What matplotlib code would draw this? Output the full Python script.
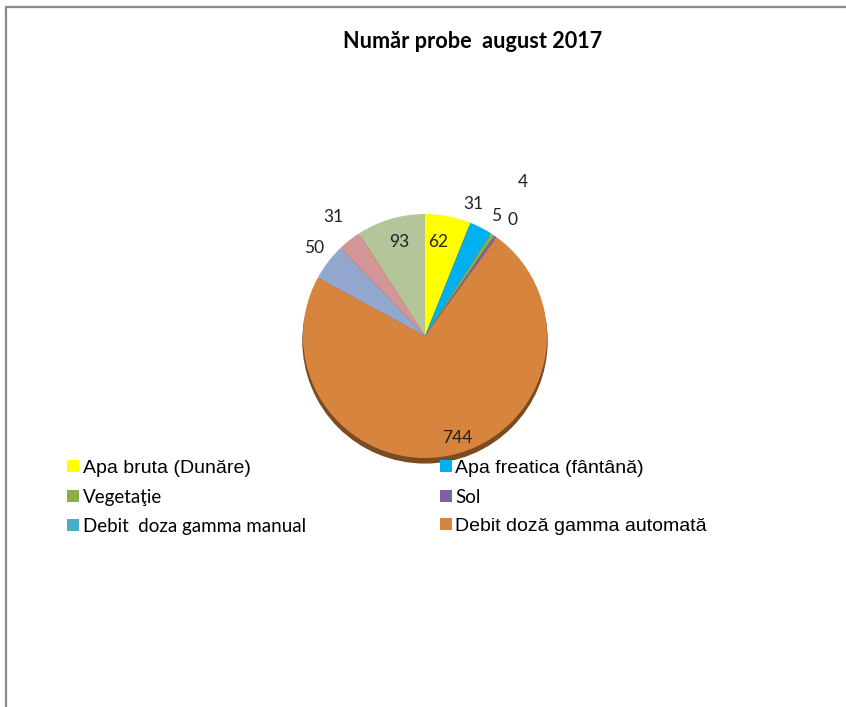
import numpy as np
import matplotlib.pyplot as plt
from matplotlib.patches import Circle, Rectangle

# Data
categories = ['Apa bruta (Dunăre)', 'Apa freatica (fântână)', 'Vegetaţie', 'Sol',
              'Debit  doza gamma manual', 'Debit doză gamma automată']
values = [62, 31, 5, 4, 0, 744, 50, 31, 93]   # last three slices have no legend entry
colors = ['#FFFF00', '#00B0F0', '#8BAE4A', '#7D62A0', '#4BACC6', '#D6843E',
          '#94A8CF', '#D49597', '#B5C59A']
# label placement (radius fraction, angular nudge in degrees, clockwise)
label_dist = [0.78, 1.155, 1.14, 1.5, 1.19, 0.875, 1.16, 1.23, 0.80]
label_shift = [-3.1, -7.4, -3.1, -2.8, 0.9, -4.7, 1.0, 0.9, 0.9]

W, H = 846, 707
fig = plt.figure(figsize=(W / 100, H / 100), dpi=100)

# outer chart frame (only left and top edges visible)
fig.patches.append(Rectangle((6 / W, -0.1), 1.2, 1.1 - 7 / H, transform=fig.transFigure,
                             fill=False, edgecolor='#8a8a8a', linewidth=1.6))

fig.text(473 / W, 1 - 42 / H, 'Număr probe  august 2017', ha='center', va='center',
         fontsize=15.6, fontweight='bold', family='Lato')

# pie axes: center (425, 336) px, radius 122 px
R = 122
lim = 1.6
side = 2 * lim * R
ax = fig.add_axes([(425 - side / 2) / W, (H - 336 - side / 2) / H, side / W, side / H])

# 3D-ish rim below the pie
ax.add_patch(Circle((0.0, -0.04), 1.0, color='#7a4a20', zorder=0))

wedges, _ = ax.pie(values, colors=colors, startangle=90, counterclock=False,
                   radius=1.0, wedgeprops=dict(linewidth=0))
for w in wedges:
    w.set_zorder(1)

total = sum(values)
ang = 0.0  # clockwise from top
for v, d, s in zip(values, label_dist, label_shift):
    span = v / total * 360
    a = np.deg2rad(ang + span / 2 + s)
    ax.text(d * np.sin(a), d * np.cos(a), str(v), ha='center', va='center',
            fontsize=12.5, family='Lato', color='#222222', zorder=3)
    ang += span

ax.set_xlim(-lim, lim)
ax.set_ylim(-lim, lim)
ax.set_aspect('equal')
ax.axis('off')

# legend: two columns, filled row by row
order = [0, 2, 4, 1, 3, 5]
leg = fig.legend([wedges[i] for i in order], [categories[i] for i in order],
                 ncol=2, loc='upper left', bbox_to_anchor=(67 / W, 1 - 460 / H),
                 frameon=False, fontsize=14, handlelength=0.6, handleheight=0.6,
                 handletextpad=0.2, labelspacing=0.62, columnspacing=6.9,
                 borderpad=0, borderaxespad=0)
arial = ['Apa bruta (Dunăre)', 'Apa freatica (fântână)', 'Debit doză gamma automată']
for t in leg.get_texts():
    if t.get_text() in arial:
        t.set_fontfamily('Liberation Sans')
    else:
        t.set_fontfamily('Lato')
        t.set_fontsize(13.5)

fig.savefig('out.png', dpi=100)
